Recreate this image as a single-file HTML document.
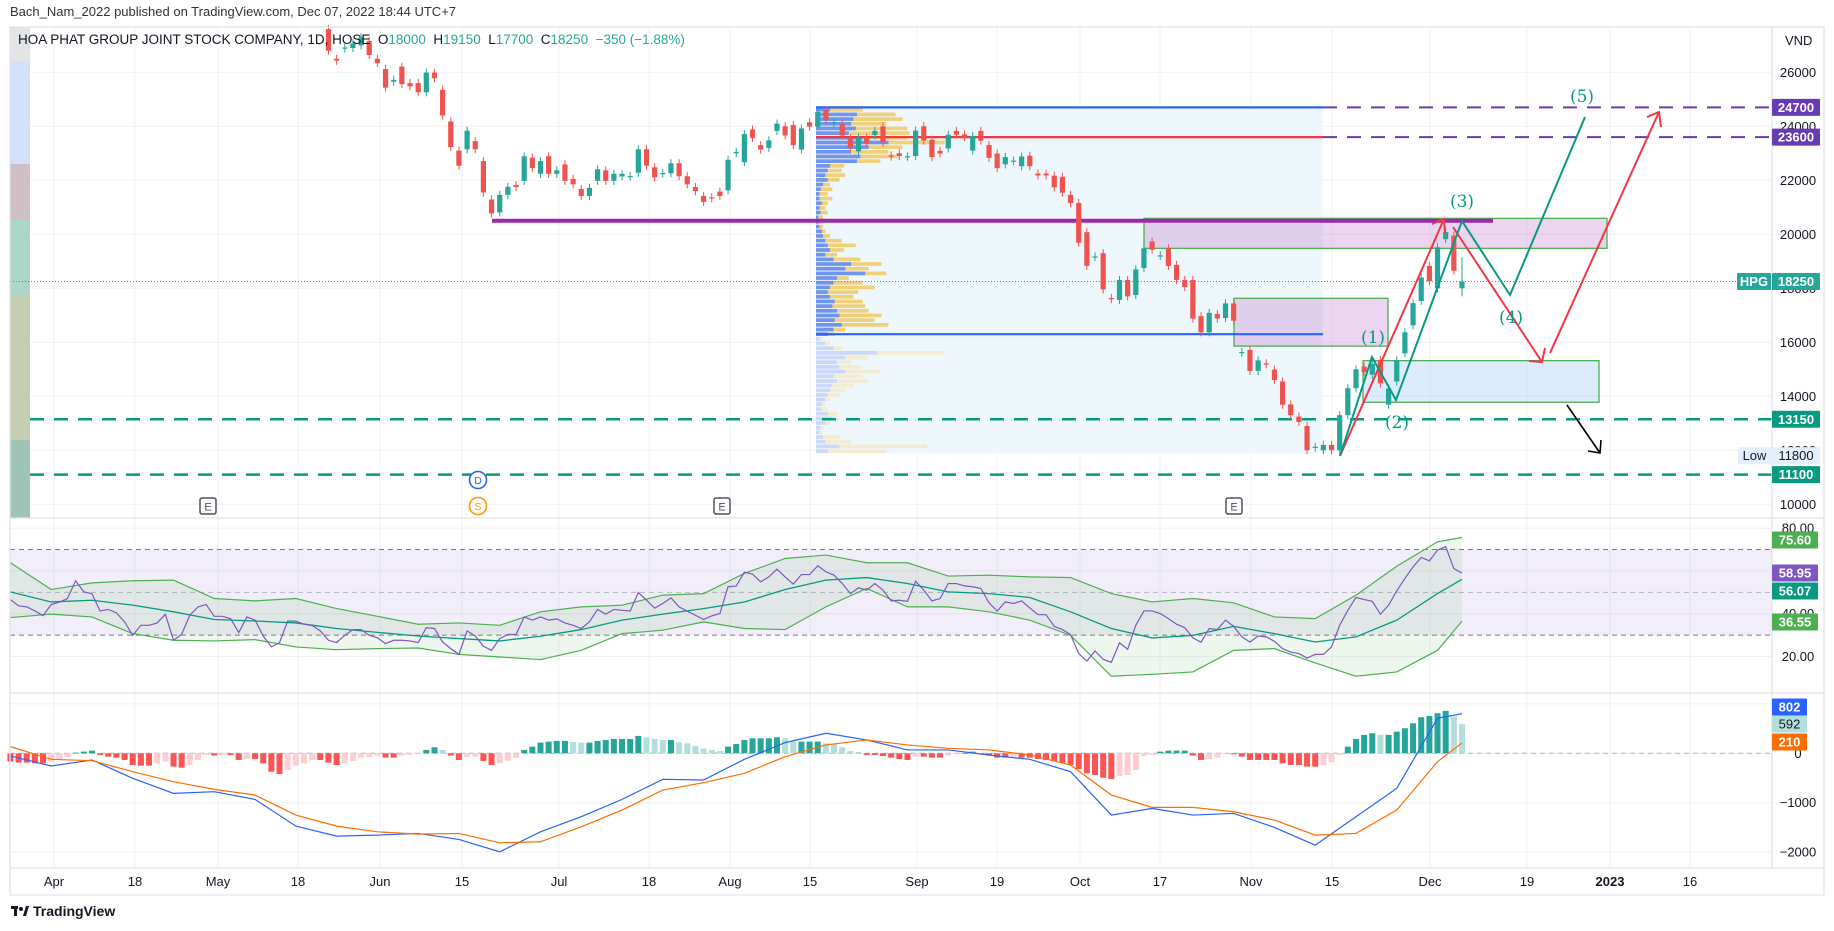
<!DOCTYPE html>
<html><head><meta charset="utf-8"><title>HPG chart</title>
<style>
html,body{margin:0;padding:0;background:#fff;}
svg{display:block;font-family:"Liberation Sans",sans-serif;}
</style></head>
<body>
<svg id="chart" width="1834" height="931" viewBox="0 0 1834 931" xmlns="http://www.w3.org/2000/svg">
<text x="10" y="16" font-size="13" fill="#333">Bach_Nam_2022 published on TradingView.com, Dec 07, 2022 18:44 UTC+7</text>
<g id="grid"></g>
<g id="strip"></g>
<g id="profile"></g>
<g id="lines"></g>
<g id="candles"></g>
<g id="rsi"></g>
<g id="macd"></g>
<g id="waves"></g>
<g id="axes"></g>
<text x="18" y="44" font-size="13.5" fill="#131722">HOA PHAT GROUP JOINT STOCK COMPANY, 1D, HOSE&#160; O<tspan fill="#26a69a">18000</tspan>&#160; H<tspan fill="#26a69a">19150</tspan>&#160; L<tspan fill="#26a69a">17700</tspan>&#160; C<tspan fill="#26a69a">18250</tspan>&#160; <tspan fill="#26a69a">−350 (−1.88%)</tspan></text>
<g>
<rect x="11" y="906" width="7" height="3" fill="#131722"/><rect x="14" y="906" width="3" height="10" fill="#131722"/><circle cx="21" cy="909" r="2" fill="#131722"/><polygon points="23,916 26,906 29,906 26,916" fill="#131722"/>
<text x="33" y="916" font-size="14" font-weight="bold" fill="#131722">TradingView</text></g>
</svg>
<script>
// ---- data ----
const opens = [27600,26500,26880,26900,27000,27160,26500,26120,25650,26210,25600,25600,25260,25990,25350,24180,23100,23145,23450,22710,21290,20810,21460,21820,21980,22840,22240,22890,22240,22590,22050,21680,21420,21980,22370,21980,22140,22140,22280,23150,22480,22250,22260,22630,22150,21750,
21420,21370,21580,21630,23000,22670,23880,23300,23200,23830,24000,24050,23140,24150,23990,24600,24110,24080,23550,23070,23580,23670,24000,22920,23000,22870,22900,24000,23500,23090,23180,23830,23700,23100,23830,23310,22990,22590,22710,22520,22910,22250,22250,22170,22130,21460,21160,20080,19160,19300,17640,17570,18310,17750,18750,19730,19200,19480,18870,18310,18310,16970,16370,17050,16900,17440,15620,15720,14940,15220,14990,14550,
13700,13250,12900,12100,12000,12200,12000,13300,14300,15100,14800,
15350,13690,14550,15590,16630,17530,18830,18000,19820,19950,18000];
const closes = [26800,26430,26920,27070,27300,26640,26340,25430,25720,25560,25480,25260,25990,25780,24400,23230,22540,23840,23150,21550,20770,21460,21760,21750,22890,22450,22710,22240,22370,21980,21850,21420,21720,22410,21980,22240,22240,22160,23150,22540,22110,22270,22630,22150,21850,21600,
21200,21330,21420,22760,23050,23710,23570,23140,23480,24100,23660,23300,23920,23990,24530,24230,24140,23660,23190,23580,23370,23830,23400,22880,22900,22890,23840,23470,22860,22990,23690,23690,23600,23640,23470,22830,22450,22860,22730,22880,22520,22180,22180,21740,21540,21160,19690,18830,19180,17960,17600,18310,17700,18700,19480,19430,19220,18830,18310,18050,16880,16370,17090,16880,17440,16800,15640,14940,15330,15180,14600,13690,
13300,13050,12000,12130,12200,12000,13300,14300,15000,14900,15200,
14480,14290,15330,16370,17450,18400,18260,19520,20080,18650,18250];
const rsi = [46.6,43.7,43.2,41.3,39.1,44.3,45.4,47.1,55.4,50.2,49.3,41.3,42.0,40.4,36.2,29.9,34.6,34.6,35.7,39.8,27.6,30.4,39.3,43.2,44.3,38.8,38.8,37.7,31.2,38.5,37.0,29.6,24.5,26.5,36.6,36.5,35.1,34.5,32.0,27.6,26.5,29.9,32.6,32.6,29.9,28.8,26.0,27.6,27.6,27.3,26.5,33.5,33.1,26.8,23.7,21.0,32.0,29.6,24.8,22.9,28.4,30.3,30.3,38.5,37.0,38.5,37.0,37.6,35.7,34.6,33.1,36.2,42.0,39.8,42.0,41.6,41.3,49.9,46.3,42.6,44.8,47.4,43.2,41.2,39.3,37.3,39.0,40.1,52.6,52.9,59.4,
58.5,54.9,57.2,60.8,57.2,53.8,58.3,58.3,62.4,59.6,58.0,54.1,49.4,52.1,51.0,54.1,51.0,46.0,46.3,45.8,55.2,51.0,46.0,47.1,54.1,54.1,53.0,52.6,51.8,45.1,41.2,45.5,44.8,46.0,42.7,39.6,39.5,34.1,32.6,30.3,21.4,17.9,22.6,18.7,17.3,26.4,23.4,34.6,41.3,41.3,40.1,37.7,35.1,33.5,28.7,26.7,33.1,32.6,37.0,34.1,29.2,26.8,29.6,29.2,27.1,23.7,22.1,21.4,19.3,21.0,21.0,24.5,34.6,41.6,47.6,46.6,45.8,39.8,44.0,50.7,56.5,61.9,66.3,64.7,69.7,71.3,61.1,58.95];
const bandIdx = [0,5,10,15,20,25,30,35,40,45,50,55,60,65,70,75,80,85,90,95,100,105,110,115,120,125,130,135,140,145,150,155,160,165,170,175,178];
const bbBasis = [50.2,45.5,46.3,44.0,40.9,37.3,36.6,35.7,33.1,31.3,29.6,28.4,27.3,29.5,32.6,37.0,39.8,42.4,45.5,51.3,55.7,56.9,54.1,50.2,49.4,47.6,40.9,33.1,28.7,29.9,34.1,30.7,26.8,29.2,37.0,49.4,56.07];
const bbUpper = [63.8,51.3,54.4,55.4,55.7,47.1,46.0,47.1,42.4,38.8,35.1,35.7,34.6,40.9,43.2,44.0,48.7,49.4,58.8,65.8,67.4,63.8,63.8,57.6,58.0,57.2,56.9,49.4,45.5,47.1,45.1,38.5,37.7,48.7,62.2,73.6,75.6];
const bbLower = [38.2,39.8,38.5,30.7,27.6,27.3,27.9,24.5,23.2,23.7,24.0,21.0,19.8,18.6,22.9,30.7,32.3,36.2,33.1,32.6,43.2,51.8,43.2,43.2,40.9,37.0,29.9,10.8,11.7,12.8,22.9,23.7,17.0,10.8,12.8,22.9,36.55];
const macdLine = [-54,-257,-135,-507,-811,-777,-933,-1474,-1677,-1656,-1622,-1744,-1994,-1589,-1284,-933,-527,-541,-122,216,406,270,68,68,-34,-122,-372,-1250,-1115,-1250,-1217,-1501,-1859,-1284,-710,710,802];
const signalLine = [135,-122,-149,-372,-575,-730,-845,-1250,-1474,-1589,-1636,-1622,-1812,-1791,-1487,-1149,-744,-595,-406,-68,169,270,169,101,68,-34,-237,-845,-1095,-1095,-1183,-1352,-1656,-1622,-1149,-169,210];
const hist = [-169,-189,-189,-203,-203,-169,-122,-81,14,34,54,-34,-68,-88,-135,-237,-250,-250,-203,-169,-270,-291,-237,-135,-34,-47,-34,-34,-135,-115,-115,-203,-372,-419,-338,-250,-203,-135,-135,-189,-237,-203,-155,-88,-81,-54,-88,-88,-47,-27,-14,68,122,68,-47,-135,-81,-68,-155,-237,-203,-149,-88,68,135,216,237,250,250,230,216,216,250,270,291,291,291,352,324,291,270,270,223,203,149,95,68,47,135,189,270,
304,304,304,324,304,237,237,237,237,203,189,122,47,27,-34,-34,-54,-88,-115,-135,-68,-68,-88,-88,-47,-14,-14,34,-14,-47,-88,-88,-68,-88,-88,-115,-135,-155,-189,-237,-318,-406,-439,-494,-521,-460,-439,-338,-54,-34,34,54,54,54,-47,-135,-115,-88,-20,-20,-68,-135,-135,-135,-135,-203,-237,-237,-270,-270,-237,-183,-34,135,291,372,406,372,372,439,507,608,730,757,811,859,744,592];
const profileUp = [12,35,32,30,34,28,40,62,45,30,38,35,12,10,8,10,6,4,3,3,5,3,4,2,2,3,5,6,8,10,12,8,15,30,25,42,18,15,12,10,12,16,14,18,20,16,22,15,10,3,8,15,52,25,18,20,25,15,18,14,12,10,8,5,4,10,14,8,4,3,6,8,20,10];
const profileTotal = [40,68,74,60,78,80,78,110,74,62,70,55,24,22,25,20,12,14,10,14,10,8,10,6,4,6,8,12,22,34,24,18,38,56,45,60,28,40,50,36,32,40,42,45,56,50,62,25,16,6,12,22,110,45,30,38,55,40,45,32,25,20,12,8,10,18,20,12,7,6,20,30,95,60];
const priceTicks = [26000,24000,22000,20000,18000,16000,14000,12000,10000];
const rsiTicks = [80,60,40,20];
const rsiTickLabels = ["80.00","","40.00","20.00"];
const macdTicks = [1000,0,-1000,-2000];
const macdTickLabels = ["","0","−1000","−2000"];
const dateLabels = ["Apr","18","May","18","Jun","15","Jul","18","Aug","15","Sep","19","Oct","17","Nov","15","Dec","19","2023","16"];
const dateX = [54,135,218,298,380,462,559,649,730,810,917,997,1080,1160,1251,1332,1430,1527,1610,1690];

// ---- geometry ----
const NS="http://www.w3.org/2000/svg";
const L=10, R=1772, LASTX=1462, DX=8.155;
const pY=p=>234.3+(20000-p)*0.027;
const rY=v=>549.5+(70-v)*2.141;
const mY=v=>753.3-v*0.0494;
const cX=i=>LASTX-(opens.length-1-i)*DX;
const iX=i=>LASTX-(rsi.length-1-i)*DX;
function el(tag,attrs,parent){const e=document.createElementNS(NS,tag);for(const k in attrs)e.setAttribute(k,attrs[k]);parent.appendChild(e);return e;}
const G=id=>document.getElementById(id);

// grid
const grid=G('grid');
for(let i=0;i<dateX.length;i++){const g=el('line',{x1:dateX[i],x2:dateX[i],y1:27,y2:868,stroke:'#f0f1f4','stroke-width':1},grid);

}
priceTicks.forEach(p=>{const g=el('line',{x1:L,x2:R,y1:pY(p),y2:pY(p),stroke:'#f0f1f4'},grid);

});
rsiTicks.forEach(v=>{const g=el('line',{x1:L,x2:R,y1:rY(v),y2:rY(v),stroke:'#f0f1f4'},grid);

});
macdTicks.forEach(v=>{const g=el('line',{x1:L,x2:R,y1:mY(v),y2:mY(v),stroke:'#f0f1f4'},grid);

});

// left strip
const strip=G('strip');
[[27,61,'#e3e4e6'],[61,164,'#d2dffd'],[164,219,'#d1bfc8'],[219,295,'#acd6c9'],[295,440,'#c5ceb0'],[440,518,'#9dc4b6']].forEach(s=>{
const r=el('rect',{x:10,y:s[0],width:20,height:s[1]-s[0],fill:s[2]},strip);

});

// volume profile
const prof=G('profile');
const bg=el('rect',{x:816,y:107.4,width:507,height:346,fill:'#eef7fb'},prof);


const rowH=346/profileTotal.length;
profileTotal.forEach((t,i)=>{const y=107.4+i*rowH;const y0=pY(16300);const faded=y>y0;
const a=el('rect',{x:816,y:y+0.5,width:t*1.17,height:rowH-1,fill:faded?'#f4ecd0':'#f1d07a'},prof);


const b=el('rect',{x:816,y:y+0.5,width:profileUp[i]*1.17,height:rowH-1,fill:faded?'#c9d8fb':'#6d95f4'},prof);

});

// drawings (levels/boxes)
const ln=G('lines');
function hline(x1,x2,p,col,w,dash,name){const e=el('line',{x1:x1,x2:x2,y1:pY(p),y2:pY(p),stroke:col,'stroke-width':w},ln);if(dash)e.setAttribute('stroke-dasharray',dash);

}
function box(x1,x2,p1,p2,fill,name){const e=el('rect',{x:x1,y:pY(p1),width:x2-x1,height:pY(p2)-pY(p1),fill:fill,stroke:'#4caf50','stroke-width':1.3},ln);

}
box(1144,1607,20590,19480,'rgba(186,104,200,0.28)','supply-zone-upper');
box(1234,1388,17630,15860,'rgba(186,104,200,0.28)','supply-zone-lower');
box(1363,1599,15320,13780,'rgba(144,191,249,0.3)','demand-zone');
hline(816,1323,24700,'#2962ff',2.2,null,'profile-high-line');
hline(816,1323,23600,'#f23645',2.2,null,'poc-line');
hline(816,1323,16300,'#2962ff',2.2,null,'profile-low-line');
hline(492,1493,20500,'#9c27b0',4,null,'support-line-20500');
hline(1323,R,24700,'#673ab7',2,'14 10','target-line-24700');
hline(1323,R,23600,'#673ab7',2,'14 10','target-line-23600');
hline(30,R,13150,'#089981',2.5,'14 10','support-line-13150');
hline(30,R,11100,'#089981',2.5,'14 10','support-line-11100');
hline(L,1737,18250,'#26a69a',1,'1 2','last-price-line');

// candles
const cg=G('candles');
opens.forEach((o,i)=>{const c=closes[i];const up=c>=o;const col=up?'#26a69a':'#ef5350';const x=cX(i);
const w=el('line',{x1:x,x2:x,y1:pY(Math.max(o,c)+150),y2:pY(Math.min(o,c)-150),stroke:col,'stroke-width':1},cg);


const yt=pY(Math.max(o,c)),yb=pY(Math.min(o,c));
const b=el('rect',{x:x-2.6,y:yt,width:5.2,height:Math.max(1.2,yb-yt),fill:col},cg);

});
const lw=el('line',{x1:cX(139),x2:cX(139),y1:pY(19150),y2:pY(17700),stroke:'#26a69a','stroke-width':1},cg);



// RSI pane
const rg=G('rsi');
const band=el('rect',{x:L,y:rY(70),width:R-L,height:rY(30)-rY(70),fill:'rgba(126,87,194,0.1)'},rg);


[70,50,30].forEach(v=>{const d=el('line',{x1:L,x2:R,y1:rY(v),y2:rY(v),stroke:v==50?'#b2b5be':'#787b86','stroke-dasharray':'5 4'},rg);

});
let fp=bandIdx.map((k,j)=>iX(k)+','+rY(bbUpper[j])).join(' ')+' '+bandIdx.map((k,j)=>iX(k)+','+rY(bbLower[j])).reverse().join(' ');
const bbf=el('polygon',{points:fp,fill:'rgba(76,175,80,0.1)'},rg);


const up=el('polyline',{points:bandIdx.map((k,j)=>iX(k)+','+rY(bbUpper[j])).join(' '),fill:'none',stroke:'#4caf50','stroke-width':1.2},rg);


const lo=el('polyline',{points:bandIdx.map((k,j)=>iX(k)+','+rY(bbLower[j])).join(' '),fill:'none',stroke:'#4caf50','stroke-width':1.2},rg);


const bs=el('polyline',{points:bandIdx.map((k,j)=>iX(k)+','+rY(bbBasis[j])).join(' '),fill:'none',stroke:'#089981','stroke-width':1.3},rg);


const rl=el('polyline',{points:rsi.map((v,i)=>iX(i)+','+rY(v)).join(' '),fill:'none',stroke:'#7e57c2','stroke-width':1.2},rg);



// MACD pane
const mg=G('macd');
const z=el('line',{x1:L,x2:R,y1:mY(0),y2:mY(0),stroke:'#b2b5be','stroke-dasharray':'5 4'},mg);


hist.forEach((v,i)=>{const prev=i?hist[i-1]:v;let col;
if(v>=0)col=v>=prev?'#26a69a':'#b2dfdb';else col=v<=prev?'#ff5252':'#ffcdd2';
const y1=Math.min(mY(v),mY(0)),h=Math.abs(mY(v)-mY(0));
const b=el('rect',{x:iX(i)-3,y:y1,width:6,height:Math.max(h,0.5),fill:col},mg);

});
const ml=el('polyline',{points:bandIdx.map((k,j)=>iX(k)+','+mY(macdLine[j])).join(' '),fill:'none',stroke:'#2962ff','stroke-width':1.2},mg);


const sl=el('polyline',{points:bandIdx.map((k,j)=>iX(k)+','+mY(signalLine[j])).join(' '),fill:'none',stroke:'#ff6d00','stroke-width':1.2},mg);



// wave drawings
const wv=G('waves');
const redA=el('polyline',{points:'1340,456 1444,219',fill:'none',stroke:'#f23645','stroke-width':2},wv);


const redB=el('polyline',{points:'1453,227 1542,362',fill:'none',stroke:'#f23645','stroke-width':2},wv);


const redC=el('polyline',{points:'1550,353 1659,112',fill:'none',stroke:'#f23645','stroke-width':2},wv);


const heads=el('path',{d:'M1432,224 L1444,219 L1445,233 M1529,361 L1542,362 L1545,348 M1647,117 L1659,112 L1661,127',fill:'none',stroke:'#f23645','stroke-width':2},wv);


const gp=el('polyline',{points:'1340,456 1372,357 1396,400 1462,221 1510,295 1585,117',fill:'none',stroke:'#089981','stroke-width':2},wv);


const ba=el('path',{d:'M1567,405 L1600,453 M1588,451 L1600,453 L1601,440',fill:'none',stroke:'#000','stroke-width':1.6},wv);


[['(1)',1373,343],['(2)',1397,428],['(3)',1462,207],['(4)',1511,323],['(5)',1582,102]].forEach(t=>{
const e=el('text',{x:t[1],y:t[2],'text-anchor':'middle','font-size':17,fill:'#089981','font-family':'"DejaVu Serif",serif'},wv);e.textContent=t[0];

});
// events
[[208,506],[722,506],[1234,506]].forEach(p=>{const r=el('rect',{x:p[0]-8,y:p[1]-8,width:16,height:16,rx:2,fill:'#fff',stroke:'#50535e','stroke-width':1.5},wv);


const t=el('text',{x:p[0],y:p[1]+4.5,'text-anchor':'middle','font-size':11,fill:'#50535e'},wv);t.textContent='E';

});
[[480,'D','#2962ff'],[506,'S','#ff9800']].forEach(p=>{const c=el('circle',{cx:478,cy:p[0],r:8.5,fill:'#fff',stroke:p[2],'stroke-width':1.6},wv);


const t=el('text',{x:478,y:p[0]+4,'text-anchor':'middle','font-size':10.5,fill:p[2]},wv);t.textContent=p[1];

});

// axes
const ax=G('axes');
const frame=el('path',{d:'M10,27 L1824,27 L1824,895 L10,895 Z M1772,27 L1772,868 M10,518 L1824,518 M10,693 L1824,693 M10,868 L1824,868',fill:'none',stroke:'#e0e3eb','stroke-width':1.3},ax);


function txt(x,y,s,name,anchor,col){const e=el('text',{x:x,y:y,'font-size':13,fill:col||'#131722','text-anchor':anchor||'middle'},ax);e.textContent=s;

return e;}
txt(1785,45,'VND','currency-label','start');
priceTicks.forEach(p=>txt(1798,pY(p)+4.5,String(p),'price-tick'));
rsiTicks.forEach((v,i)=>{if(rsiTickLabels[i])txt(1798,rY(v)+4.5,rsiTickLabels[i],'rsi-tick');});
macdTicks.forEach((v,i)=>{if(macdTickLabels[i])txt(1798,mY(v)+4.5,macdTickLabels[i],'macd-tick');});
dateLabels.forEach((s,i)=>{const t=txt(dateX[i],886,s,'date-tick');if(s==='2023')t.setAttribute('font-weight','bold');});
function tag(x,y,w,s,bgc,fg,name){const r=el('rect',{x:x,y:y-8.5,width:w,height:17,fill:bgc,rx:1},ax);


const t=el('text',{x:x+w/2,y:y+4.5,'font-size':13,fill:fg,'text-anchor':'middle','font-weight':fg==='#fff'?'bold':'normal'},ax);t.textContent=s;

}
tag(1772,pY(24700),48,'24700','#673ab7','#fff','price-tag-24700');
tag(1772,pY(23600),48,'23600','#673ab7','#fff','price-tag-23600');
tag(1737,pY(18250),34,'HPG','#26a69a','#fff','symbol-tag');
tag(1772,pY(18250),48,'18250','#26a69a','#fff','last-price-tag');
tag(1772,pY(13150),48,'13150','#089981','#fff','price-tag-13150');
tag(1738,pY(11800),33,'Low','#e3effd','#131722','low-tag');
tag(1772,pY(11800),48,'11800','#e3effd','#131722','low-price-tag');
tag(1772,pY(11100),48,'11100','#089981','#fff','price-tag-11100');
tag(1772,540,46,'75.60','#4caf50','#fff','bb-upper-tag');
tag(1772,573,46,'58.95','#7e57c2','#fff','rsi-value-tag');
tag(1772,591,46,'56.07','#089981','#fff','bb-basis-tag');
tag(1772,622,46,'36.55','#4caf50','#fff','bb-lower-tag');
tag(1772,707,35,'802','#2962ff','#fff','macd-value-tag');
tag(1772,724,35,'592','#b2dfdb','#131722','hist-value-tag');
tag(1772,742,35,'210','#ff6d00','#fff','signal-value-tag');
</script>
</body></html>
